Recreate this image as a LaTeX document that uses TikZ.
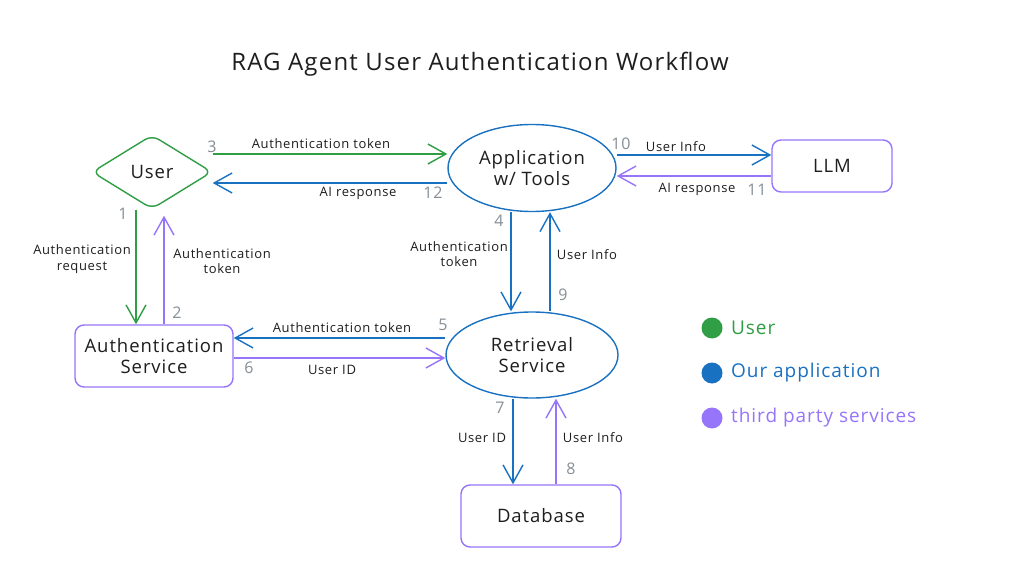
\documentclass[tikz,border=0pt]{standalone}
\usepackage{fontspec}
\setmainfont{Open Sans}[LetterSpace=5]
\usetikzlibrary{arrows.meta,shapes.geometric}
\definecolor{cgreen}{HTML}{2F9E44}
\definecolor{cblue}{HTML}{1971C2}
\definecolor{cpurple}{HTML}{9775FA}
\definecolor{cgray}{HTML}{868E96}
\definecolor{cink}{HTML}{1E1E1E}
\begin{document}
\begin{tikzpicture}[x=1pt,y=-1pt,
  nodefont/.style={font=\fontsize{18.5}{23}\selectfont},
  shapebox/.style={nodefont, text=cink, align=center, line width=1.4pt, inner sep=0pt},
  pbox/.style={shapebox, draw=cpurple, rectangle, rounded corners=9pt},
  bell/.style={shapebox, draw=cblue, ellipse},
  conn/.style={line width=1.4pt, -{Straight Barb[length=18pt,width=20pt,line width=1.4pt]}},
  gconn/.style={conn, draw=cgreen},
  bconn/.style={conn, draw=cblue},
  pconn/.style={conn, draw=cpurple},
  lbl/.style={font=\fontsize{13}{15.5}\selectfont, text=cink, align=center, inner sep=1pt},
  num/.style={font=\fontsize{16}{18}\selectfont, text=cgray, inner sep=0pt},
  legdot/.style={circle, minimum size=21pt, inner sep=0pt},
  legtxt/.style={font=\fontsize{19}{22}\selectfont, anchor=west, inner sep=0pt}
]
\useasboundingbox[fill=white] (0,0) rectangle (1024,585);

% title
\node[font=\fontsize{24}{28}\selectfont, text=cink] (title) at (480,64) {RAG Agent User Authentication Workflow};

% nodes
\node[shapebox, draw=cgreen, diamond, minimum width=120pt, minimum height=74pt, rounded corners=8pt] (user) at (152,172) {User};
\node[bell, minimum width=168pt, minimum height=87pt] (app) at (532,168) {Application\\[-2pt]w/ Tools};
\node[pbox, minimum width=120pt, minimum height=52pt] (llm) at (832,166) {LLM};
\node[pbox, minimum width=158pt, minimum height=62pt] (auth) at (154,356) {Authentication\\[-2pt]Service};
\node[bell, minimum width=172pt, minimum height=86pt] (ret) at (532,355) {Retrieval\\[-2pt]Service};
\node[pbox, minimum width=160pt, minimum height=62pt] (db) at (541,516) {Database};

% connectors
\draw[gconn] (user.east |- 0,154) -- (app.west |- 0,154);
\draw[bconn] (app.west |- 0,183) -- (user.east |- 0,183);
\draw[gconn] (user.south -| 136,0) -- (auth.north -| 136,0);
\draw[pconn] (auth.north -| 164,0) -- ([yshift=-6pt]user.south -| 164,0);
\draw[bconn] (ret.west |- 0,338) -- (auth.east |- 0,338);
\draw[pconn] (auth.east |- 0,358) -- (ret.west |- 0,358);
\draw[bconn] (app.south -| 511,0) -- (ret.north -| 511,0);
\draw[bconn] (ret.north -| 550,0) -- (app.south -| 550,0);
\draw[bconn] (app.east |- 0,155) -- (llm.west |- 0,155);
\draw[pconn] (llm.west |- 0,176) -- (app.east |- 0,176);
\draw[bconn] (ret.south -| 513,0) -- (db.north -| 513,0);
\draw[pconn] (db.north -| 556,0) -- (ret.south -| 556,0);

% connector labels
\node[lbl] (l3) at (321,144) {Authentication token};
\node[lbl] (l12) at (358,193) {AI response};
\node[lbl] (l1) at (82,259) {Authentication\\request};
\node[lbl] (l2) at (222,261) {Authentication\\token};
\node[lbl] (l5) at (342,328) {Authentication token};
\node[lbl] (l6) at (332,370) {User ID};
\node[lbl] (l4) at (459,254) {Authentication\\token};
\node[lbl] (l9) at (587,255) {User Info};
\node[lbl] (l10) at (676,147) {User Info};
\node[lbl] (l11) at (697,189) {AI response};
\node[lbl] (l7) at (482,438) {User ID};
\node[lbl] (l8) at (593,438) {User Info};

% step numbers
\node[num] (n1) at (123,214) {1};
\node[num] (n2) at (177,313) {2};
\node[num] (n3) at (212,147) {3};
\node[num] (n4) at (499,221) {4};
\node[num] (n5) at (443,325) {5};
\node[num] (n6) at (249,368) {6};
\node[num] (n7) at (500,408) {7};
\node[num] (n8) at (571,469) {8};
\node[num] (n9) at (563,295) {9};
\node[num] (n10) at (621,144) {10};
\node[num] (n11) at (757,190) {11};
\node[num] (n12) at (433,193) {12};

% legend
\node[legdot, fill=cgreen] (d1) at (712,328) {};
\node[legtxt, text=cgreen] (t1) at (731,328) {User};
\node[legdot, fill=cblue] (d2) at (712,373) {};
\node[legtxt, text=cblue] (t2) at (731,373) {Our application};
\node[legdot, fill=cpurple] (d3) at (712,418) {};
\node[legtxt, text=cpurple] (t3) at (731,418) {third party services};
\end{tikzpicture}
\end{document}
